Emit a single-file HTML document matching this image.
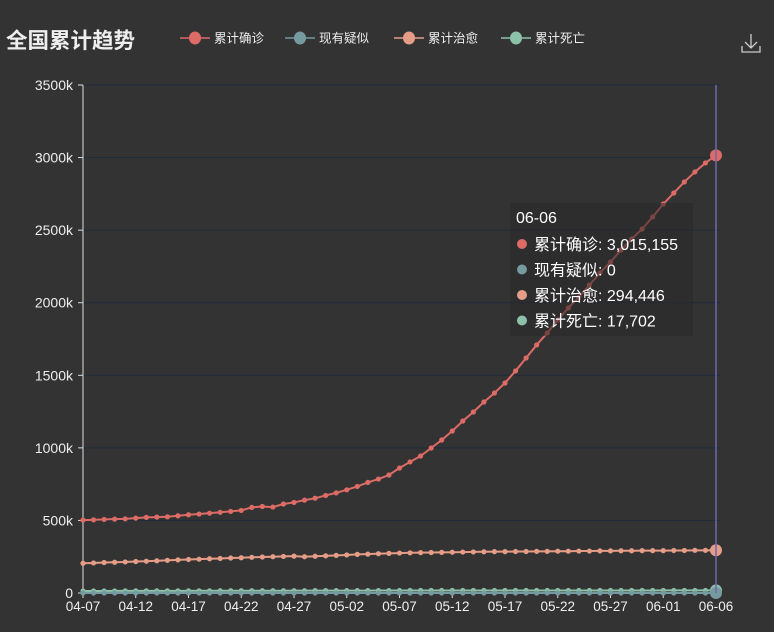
<!DOCTYPE html>
<html><head><meta charset="utf-8"><style>
html,body{margin:0;padding:0;background:#333333;}
body{width:774px;height:627px;overflow:hidden;font-family:"Liberation Sans","Noto Sans CJK SC",sans-serif;}
svg text{font-family:"Liberation Sans","Noto Sans CJK SC",sans-serif;}
</style></head><body>
<svg id="chart" width="774" height="627">
<rect width="774" height="627" fill="#333333"/>
<text x="6" y="48" fill="#eeeeee" font-size="21.5" font-weight="bold">全国累计趋势</text>
<g id="legend"></g>
<g stroke="#cccccc" stroke-width="1.3" fill="none">
<path d="M751 34 L751 48 M745 42 L751 48 L757 42 M742 46 L742 52 L760 52 L760 46"/>
</g>
<g id="grid"></g><g id="axes"></g><g id="series"></g><g id="overlay"></g>
</svg>
<script>
const categories=[];(function(){const s=new Date(2020,3,7);for(let i=0;i<61;i++){const d=new Date(s.getTime()+i*86400000);categories.push(String(d.getMonth()+1).padStart(2,'0')+'-'+String(d.getDate()).padStart(2,'0'));}})();
const seriesNames=['累计确诊','现有疑似','累计治愈','累计死亡'];
const seriesColors=['#dd6b66','#759aa0','#e69d87','#8dc1a9'];
const confirmed=[502000,504000,507000,509000,511000,516000,521000,523000,525000,532000,539000,544000,550000,556000,562000,569000,590000,596000,592000,613000,624000,640000,653000,672000,690000,711000,734000,762000,785000,813000,861000,903000,944000,999000,1054000,1116000,1185000,1247000,1316000,1378000,1447000,1530000,1619000,1709000,1791000,1881000,1964000,2039000,2122000,2205000,2281000,2363000,2439000,2508000,2591000,2680000,2756000,2832000,2901000,2963000,3015155];
const suspected=Array(61).fill(0);
const recovered=[205000,207000,210000,212000,214000,217000,219000,222000,225000,228000,231000,233000,236000,238000,241000,243000,246000,248000,250000,252000,254000,250000,253000,256000,259000,262000,266000,268000,271000,273000,275000,277000,278000,279000,280000,281000,282000,283000,284000,285000,285000,286000,286000,287000,287000,288000,288000,289000,289000,290000,290000,291000,291000,292000,292000,292000,293000,293000,294000,294000,294446];
const deaths=[14000,14100,14200,14300,14400,14500,14600,14700,14800,14900,15000,15100,15200,15300,15400,15500,15600,15700,15800,15900,16000,16100,16200,16300,16400,16500,16600,16700,16800,16900,17000,17050,17100,17150,17200,17250,17300,17320,17340,17360,17380,17400,17420,17440,17460,17480,17500,17520,17540,17560,17580,17600,17620,17640,17650,17660,17670,17680,17690,17700,17702];
const yTicks=[0,500000,1000000,1500000,2000000,2500000,3000000,3500000];
const yTickLabels=['0','500k','1000k','1500k','2000k','2500k','3000k','3500k'];
const NS='http://www.w3.org/2000/svg';
const X0=83,X1=716,Y0=593,Y1=85,YMAX=3500000;
function xs(i){return X0+(X1-X0)*i/(categories.length-1);}
function ys(v){return Y0-(Y0-Y1)*v/YMAX;}
function mk(tag,attrs,parent){const e=document.createElementNS(NS,tag);for(const k in attrs)e.setAttribute(k,attrs[k]);parent.appendChild(e);return e;}
const grid=document.getElementById('grid'),axes=document.getElementById('axes'),ser=document.getElementById('series'),ov=document.getElementById('overlay'),leg=document.getElementById('legend');
yTicks.forEach((v,i)=>{
 if(i>0){const l=mk('line',{x1:X0,x2:X1+4,y1:ys(v),y2:ys(v),stroke:'#1f2b3c','stroke-width':1},grid);
 
 }
 const t=mk('text',{x:73,y:ys(v)+5,'text-anchor':'end',fill:'#eeeeee','font-size':14},axes);t.textContent=yTickLabels[i];
 
 
 mk('line',{x1:X0-5,x2:X0,y1:ys(v),y2:ys(v),stroke:'#dddddd'},axes);
});
const ya=mk('line',{x1:X0,x2:X0,y1:Y1,y2:Y0,stroke:'#dddddd'},axes);


const xa=mk('line',{x1:X0,x2:X1,y1:Y0,y2:Y0,stroke:'#dddddd'},axes);


categories.forEach((c,i)=>{if(i%5===0){
 mk('line',{x1:xs(i),x2:xs(i),y1:Y0,y2:Y0+5,stroke:'#dddddd'},axes);
 const t=mk('text',{x:xs(i),y:611,'text-anchor':'middle',fill:'#eeeeee','font-size':13.5},axes);t.textContent=c;
 
 }});
const ap=mk('line',{x1:X1,x2:X1,y1:Y1,y2:Y0,stroke:'#6e67b0','stroke-width':1.5},ov);


const allData=[confirmed,suspected,recovered,deaths];
[3,1,2,0].forEach(si=>{
 const d=allData[si],col=seriesColors[si];
 const g=mk('g',{},ser);
 
 
 mk('polyline',{points:d.map((v,i)=>xs(i)+','+ys(v)).join(' '),fill:'none',stroke:col,'stroke-width':2},g);
 d.forEach((v,i)=>{const last=i===d.length-1;const c=mk('circle',{cx:xs(i),cy:ys(v),r:last?6:2.6,fill:col},g);
  
  });
});
const tg=mk('g',{},ov);


mk('rect',{x:510,y:203,width:183,height:133,fill:'rgba(40,40,40,0.55)'},tg);
const tt=mk('text',{x:516,y:223,fill:'#ffffff','font-size':16},tg);tt.textContent=categories[60];
const vals=[confirmed[60],suspected[60],recovered[60],deaths[60]];
seriesNames.forEach((n,i)=>{const y=244+i*25.5;
 mk('circle',{cx:522,cy:y,r:5,fill:seriesColors[i]},tg);
 const t=mk('text',{x:534,y:y+6,fill:'#ffffff','font-size':16},tg);t.textContent=n+': '+vals[i].toLocaleString('en-US');
 
 });
const lx=[180,285,394,501];
seriesNames.forEach((n,i)=>{const g=mk('g',{},leg);
 
 
 mk('line',{x1:lx[i],x2:lx[i]+30,y1:38,y2:38,stroke:seriesColors[i],'stroke-width':1.5},g);
 mk('ellipse',{cx:lx[i]+15,cy:38,rx:6,ry:6.5,fill:seriesColors[i]},g);
 const t=mk('text',{x:lx[i]+34,y:42.5,fill:'#eeeeee','font-size':12.5},g);t.textContent=n;});
</script>
</body></html>
